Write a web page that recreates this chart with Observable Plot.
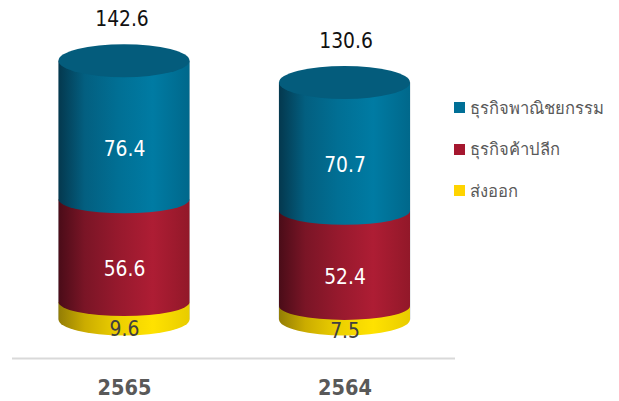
<!DOCTYPE html>
<html>
<head>
<meta charset="utf-8">
<script src="https://cdn.jsdelivr.net/npm/d3@7"></script>
<script src="https://cdn.jsdelivr.net/npm/@observablehq/plot@0.6"></script>
<style>
  html, body { margin: 0; padding: 0; background: #fff; }
  #chart { position: relative; width: 619px; height: 401px; overflow: hidden; font-family: "DejaVu Sans Condensed", "DejaVu Sans", "Noto Sans", sans-serif; }
  #legend { position: absolute; left: 454px; top: 87px; font-size: 16.6px; color: #595959; }
  #legend .item { display: flex; align-items: center; height: 41.5px; white-space: nowrap; }
  #legend .swatch { width: 11px; height: 11px; margin-right: 5px; flex: none; }
</style>
</head>
<body>
<div id="chart"></div>
<script>
const years = ["2565", "2564"];
const seriesNames = ["ธุรกิจพาณิชยกรรม", "ธุรกิจค้าปลีก", "ส่งออก"];
const commercial = [76.4, 70.7];
const retail = [56.6, 52.4];
const exportSales = [9.6, 7.5];
const totals = [142.6, 130.6];
const legendColors = ["#006f96", "#a5172f", "#ffd400"];
const labelColors = ["#ffffff", "#ffffff", "#404040"];

// bottom segment first, so upper segments paint their curved lower edge over it
const rows = [];
[[2, exportSales], [1, retail], [0, commercial]].forEach(([s, vals]) => {
  years.forEach((year, i) => rows.push({year, series: seriesNames[s], value: vals[i], label: vals[i].toFixed(1), labelColor: labelColors[s]}));
});
const totalRows = years.map((year, i) => ({year, total: totals[i], label: totals[i].toFixed(1)}));

const gradients = [
  ["g0", ["#04384e", "#035f80", "#016f94", "#007ba3", "#00688b"]],
  ["g1", ["#4a0c18", "#7a1526", "#96192d", "#ae1d34", "#921829"]],
  ["g2", ["#937d05", "#cbac00", "#eccf00", "#ffe200", "#e8cc00"]]
];
const gradientOffsets = [0, 0.2, 0.45, 0.72, 1];

function defsMark() {
  const defs = d3.create("svg:defs");
  gradients.forEach(([id, colors]) => {
    const g = defs.append("linearGradient").attr("id", id).attr("x1", 0).attr("x2", 1).attr("y1", 0).attr("y2", 0);
    colors.forEach((c, i) => g.append("stop").attr("offset", gradientOffsets[i]).attr("stop-color", c));
  });
  return defs.node();
}

// Turns each stacked bar into a cylinder slice, keeping the scale-derived geometry of the bar
function cylinder(index, scales, values, dimensions, context, next) {
  const g = next(index, scales, values, dimensions, context);
  const sel = d3.select(g);
  sel.selectAll("rect").each(function() {
    const r = d3.select(this);
    const x = +r.attr("x"), y = +r.attr("y"), w = +r.attr("width"), h = +r.attr("height");
    const fill = r.attr("fill");
    const rx = w / 2;
    const isBase = Math.abs(y + h - scales.y(0)) < 0.5;
    const isTop = fill === "url(#g0)";
    const ryBottom = isBase ? 16 : 14;
    const path = `M${x},${y}V${y + h}A${rx},${ryBottom} 0 0 0 ${x + w},${y + h}V${y}Z`;
    const parent = d3.select(this.parentNode);
    parent.append("path").attr("d", `M${x},${y}V${y + h}M${x + w},${y}V${y + h}`).attr("fill", "none").attr("stroke", "#c9d2d8").attr("stroke-width", 0.8);
    parent.append("path").attr("d", path).attr("fill", fill);
    if (isTop) parent.append("ellipse").attr("cx", x + rx).attr("cy", y).attr("rx", rx).attr("ry", 16.5).attr("fill", "#045c7c");
    r.remove();
  });
  return g;
}

const plot = Plot.plot({
  width: 619,
  height: 401,
  marginLeft: 12,
  marginRight: 164,
  marginTop: 0,
  marginBottom: 81.5,
  style: {background: "transparent", fontFamily: "'DejaVu Sans Condensed', 'DejaVu Sans', sans-serif"},
  x: {domain: years, range: [58.5, 410], paddingInner: 0.406, paddingOuter: 0, round: false, label: null},
  y: {domain: [0, 176], axis: null},
  color: {domain: seriesNames, range: ["url(#g0)", "url(#g1)", "url(#g2)"]},
  marks: [
    defsMark,
    Plot.barY(rows, Plot.stackY({order: null, x: "year", y: "value", z: "series", fill: "series", inset: 0, render: cylinder})),
    Plot.text(rows, Plot.stackY({order: null, x: "year", y: "value", z: "series", text: "label", fill: "labelColor", fontSize: 20.8, dy: 18.5})),
    Plot.text(totalRows.filter(d => d.year === years[0]), {x: "year", y: "total", text: "label", fill: "#111111", fontSize: 20.8, dy: -42, dx: -2.5}),
    Plot.text(totalRows.filter(d => d.year === years[1]), {x: "year", y: "total", text: "label", fill: "#111111", fontSize: 20.8, dy: -42, dx: 1}),
    Plot.ruleY([0], {dy: 38.5, stroke: "#d9d9d9", strokeWidth: 2}),
    Plot.axisX({anchor: "bottom", tickSize: 0, tickPadding: 60, fontSize: 21.5, fontWeight: "bold", color: "#595959", label: null})
  ]
});

const chart = document.getElementById("chart");
chart.appendChild(plot);

const legend = document.createElement("div");
legend.id = "legend";
seriesNames.forEach((name, i) => {
  const item = document.createElement("div");
  item.className = "item";
  const sw = document.createElement("span");
  sw.className = "swatch";
  sw.style.background = legendColors[i];
  const t = document.createElement("span");
  t.textContent = name;
  item.append(sw, t);
  legend.appendChild(item);
});
chart.appendChild(legend);
</script>
</body>
</html>
